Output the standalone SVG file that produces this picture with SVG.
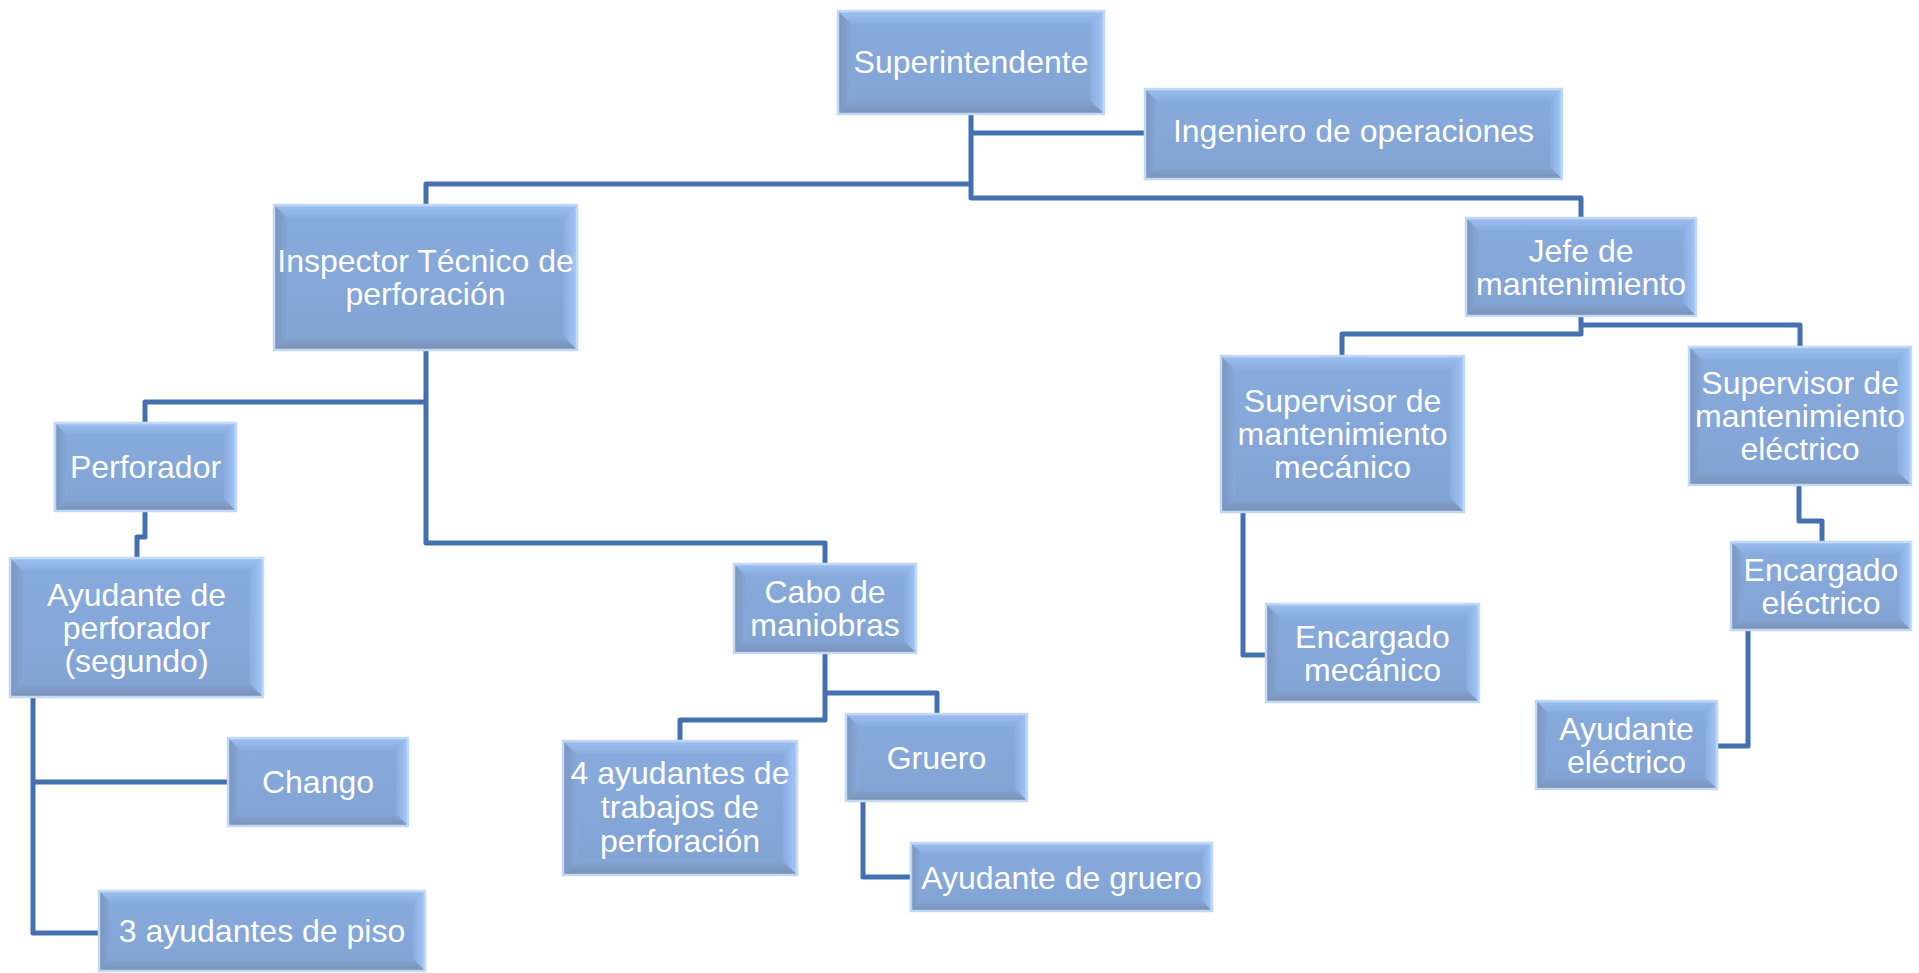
<svg xmlns="http://www.w3.org/2000/svg" width="1919" height="973" viewBox="0 0 1919 973">
<defs>
<linearGradient id="gTop" x1="0" y1="0" x2="0" y2="1"><stop offset="0" stop-color="#9cc0f2"/><stop offset="1" stop-color="#89acde"/></linearGradient>
<linearGradient id="gRight" x1="0" y1="0" x2="1" y2="0"><stop offset="0" stop-color="#89acde"/><stop offset="1" stop-color="#a2c7fa"/></linearGradient>
<linearGradient id="gBottom" x1="0" y1="0" x2="0" y2="1"><stop offset="0" stop-color="#84a5d5"/><stop offset="1" stop-color="#7990b4"/></linearGradient>
<linearGradient id="gLeft" x1="0" y1="0" x2="1" y2="0"><stop offset="0" stop-color="#7a94bd"/><stop offset="1" stop-color="#86a8d9"/></linearGradient>
<linearGradient id="gFace" x1="0" y1="0" x2="0" y2="1"><stop offset="0" stop-color="#88abdd"/><stop offset="1" stop-color="#81a3d4"/></linearGradient>
</defs>
<style>
.face{fill:url(#gFace)}
.t{fill:url(#gTop)}
.r{fill:url(#gRight)}
.b{fill:url(#gBottom)}
.l{fill:url(#gLeft)}
.edge{fill:none;stroke:#c3d8f2;stroke-width:2.5}
.lbl{font-family:"Liberation Sans",Arial,sans-serif;font-size:32px;fill:#ffffff;text-anchor:middle}
.conn{fill:none;stroke:#4470b0;stroke-width:5;stroke-linejoin:round}
</style>
<rect width="1919" height="973" fill="#ffffff"/>
<g id="connectors" class="conn">
<path d="M971,114 V198 H1581 V218"/>
<path d="M971,133 H1145"/>
<path d="M971,184 H426 V205"/>
<path d="M426,350 V543 H825 V564"/>
<path d="M426,402 H145 V423"/>
<path d="M145,511 V537 H137 V558"/>
<path d="M33,697 V933 H99"/>
<path d="M33,782 H228"/>
<path d="M825,653 V720 H680 V741"/>
<path d="M825,693 H937 V714"/>
<path d="M863,801 V877 H911"/>
<path d="M1581,316 V334 H1342 V356"/>
<path d="M1581,325 H1800 V347"/>
<path d="M1243,512 V655 H1266"/>
<path d="M1799,485 V521 H1822 V542"/>
<path d="M1748,630 V746 H1717"/>
</g>
<g id="superintendente" transform="translate(838,11)">
<rect class="face" width="266" height="103"/>
<polygon class="t" points="0,0 266,0 252,14 14,14"/><polygon class="r" points="266,0 266,103 252,89 252,14"/><polygon class="b" points="0,103 266,103 252,89 14,89"/><polygon class="l" points="0,0 0,103 14,89 14,14"/>
<rect class="edge" width="266" height="103"/>
<text class="lbl" x="133" y="62">Superintendente</text>
</g>
<g id="ingeniero" transform="translate(1145,89)">
<rect class="face" width="417" height="90"/>
<polygon class="t" points="0,0 417,0 405,12 12,12"/><polygon class="r" points="417,0 417,90 405,78 405,12"/><polygon class="b" points="0,90 417,90 405,78 12,78"/><polygon class="l" points="0,0 0,90 12,78 12,12"/>
<rect class="edge" width="417" height="90"/>
<text class="lbl" x="208.5" y="53">Ingeniero de operaciones</text>
</g>
<g id="inspector" transform="translate(274,205)">
<rect class="face" width="303" height="145"/>
<polygon class="t" points="0,0 303,0 289,14 14,14"/><polygon class="r" points="303,0 303,145 289,131 289,14"/><polygon class="b" points="0,145 303,145 289,131 14,131"/><polygon class="l" points="0,0 0,145 14,131 14,14"/>
<rect class="edge" width="303" height="145"/>
<text class="lbl"><tspan x="151.5" y="67">Inspector Técnico de</tspan><tspan x="151.5" y="100">perforación</tspan></text>
</g>
<g id="jefe" transform="translate(1466,218)">
<rect class="face" width="230" height="98"/>
<polygon class="t" points="0,0 230,0 217,13 13,13"/><polygon class="r" points="230,0 230,98 217,85 217,13"/><polygon class="b" points="0,98 230,98 217,85 13,85"/><polygon class="l" points="0,0 0,98 13,85 13,13"/>
<rect class="edge" width="230" height="98"/>
<text class="lbl"><tspan x="115" y="44">Jefe de</tspan><tspan x="115" y="77">mantenimiento</tspan></text>
</g>
<g id="sup-mecanico" transform="translate(1221,356)">
<rect class="face" width="243" height="156"/>
<polygon class="t" points="0,0 243,0 229,14 14,14"/><polygon class="r" points="243,0 243,156 229,142 229,14"/><polygon class="b" points="0,156 243,156 229,142 14,142"/><polygon class="l" points="0,0 0,156 14,142 14,14"/>
<rect class="edge" width="243" height="156"/>
<text class="lbl"><tspan x="121.5" y="56">Supervisor de</tspan><tspan x="121.5" y="89">mantenimiento</tspan><tspan x="121.5" y="122">mecánico</tspan></text>
</g>
<g id="sup-electrico" transform="translate(1689,347)">
<rect class="face" width="222" height="138"/>
<polygon class="t" points="0,0 222,0 208,14 14,14"/><polygon class="r" points="222,0 222,138 208,124 208,14"/><polygon class="b" points="0,138 222,138 208,124 14,124"/><polygon class="l" points="0,0 0,138 14,124 14,14"/>
<rect class="edge" width="222" height="138"/>
<text class="lbl"><tspan x="111" y="47">Supervisor de</tspan><tspan x="111" y="80">mantenimiento</tspan><tspan x="111" y="113">eléctrico</tspan></text>
</g>
<g id="perforador" transform="translate(55,423)">
<rect class="face" width="181" height="88"/>
<polygon class="t" points="0,0 181,0 169,12 12,12"/><polygon class="r" points="181,0 181,88 169,76 169,12"/><polygon class="b" points="0,88 181,88 169,76 12,76"/><polygon class="l" points="0,0 0,88 12,76 12,12"/>
<rect class="edge" width="181" height="88"/>
<text class="lbl" x="90.5" y="55">Perforador</text>
</g>
<g id="ayudante-perforador" transform="translate(10,558)">
<rect class="face" width="253" height="139"/>
<polygon class="t" points="0,0 253,0 239,14 14,14"/><polygon class="r" points="253,0 253,139 239,125 239,14"/><polygon class="b" points="0,139 253,139 239,125 14,125"/><polygon class="l" points="0,0 0,139 14,125 14,14"/>
<rect class="edge" width="253" height="139"/>
<text class="lbl"><tspan x="126.5" y="47.5">Ayudante de</tspan><tspan x="126.5" y="80.5">perforador</tspan><tspan x="126.5" y="113.5">(segundo)</tspan></text>
</g>
<g id="chango" transform="translate(228,738)">
<rect class="face" width="180" height="88"/>
<polygon class="t" points="0,0 180,0 168,12 12,12"/><polygon class="r" points="180,0 180,88 168,76 168,12"/><polygon class="b" points="0,88 180,88 168,76 12,76"/><polygon class="l" points="0,0 0,88 12,76 12,12"/>
<rect class="edge" width="180" height="88"/>
<text class="lbl" x="90" y="55">Chango</text>
</g>
<g id="ayudantes-piso" transform="translate(99,891)">
<rect class="face" width="326" height="80"/>
<polygon class="t" points="0,0 326,0 314,12 12,12"/><polygon class="r" points="326,0 326,80 314,68 314,12"/><polygon class="b" points="0,80 326,80 314,68 12,68"/><polygon class="l" points="0,0 0,80 12,68 12,12"/>
<rect class="edge" width="326" height="80"/>
<text class="lbl" x="163" y="51">3 ayudantes de piso</text>
</g>
<g id="cabo" transform="translate(734,564)">
<rect class="face" width="182" height="89"/>
<polygon class="t" points="0,0 182,0 170,12 12,12"/><polygon class="r" points="182,0 182,89 170,77 170,12"/><polygon class="b" points="0,89 182,89 170,77 12,77"/><polygon class="l" points="0,0 0,89 12,77 12,12"/>
<rect class="edge" width="182" height="89"/>
<text class="lbl"><tspan x="91" y="39">Cabo de</tspan><tspan x="91" y="72">maniobras</tspan></text>
</g>
<g id="ayudantes-trabajos" transform="translate(563,741)">
<rect class="face" width="234" height="134"/>
<polygon class="t" points="0,0 234,0 220,14 14,14"/><polygon class="r" points="234,0 234,134 220,120 220,14"/><polygon class="b" points="0,134 234,134 220,120 14,120"/><polygon class="l" points="0,0 0,134 14,120 14,14"/>
<rect class="edge" width="234" height="134"/>
<text class="lbl"><tspan x="117" y="43">4 ayudantes de</tspan><tspan x="117" y="77">trabajos de</tspan><tspan x="117" y="111">perforación</tspan></text>
</g>
<g id="gruero" transform="translate(846,714)">
<rect class="face" width="181" height="87"/>
<polygon class="t" points="0,0 181,0 169,12 12,12"/><polygon class="r" points="181,0 181,87 169,75 169,12"/><polygon class="b" points="0,87 181,87 169,75 12,75"/><polygon class="l" points="0,0 0,87 12,75 12,12"/>
<rect class="edge" width="181" height="87"/>
<text class="lbl" x="90.5" y="54.5">Gruero</text>
</g>
<g id="ayudante-gruero" transform="translate(911,843)">
<rect class="face" width="301" height="68"/>
<polygon class="t" points="0,0 301,0 291,10 10,10"/><polygon class="r" points="301,0 301,68 291,58 291,10"/><polygon class="b" points="0,68 301,68 291,58 10,58"/><polygon class="l" points="0,0 0,68 10,58 10,10"/>
<rect class="edge" width="301" height="68"/>
<text class="lbl" x="150.5" y="46">Ayudante de gruero</text>
</g>
<g id="encargado-mecanico" transform="translate(1266,604)">
<rect class="face" width="213" height="98"/>
<polygon class="t" points="0,0 213,0 200,13 13,13"/><polygon class="r" points="213,0 213,98 200,85 200,13"/><polygon class="b" points="0,98 213,98 200,85 13,85"/><polygon class="l" points="0,0 0,98 13,85 13,13"/>
<rect class="edge" width="213" height="98"/>
<text class="lbl"><tspan x="106.5" y="43.5">Encargado</tspan><tspan x="106.5" y="76.5">mecánico</tspan></text>
</g>
<g id="encargado-electrico" transform="translate(1731,542)">
<rect class="face" width="180" height="88"/>
<polygon class="t" points="0,0 180,0 168,12 12,12"/><polygon class="r" points="180,0 180,88 168,76 168,12"/><polygon class="b" points="0,88 180,88 168,76 12,76"/><polygon class="l" points="0,0 0,88 12,76 12,12"/>
<rect class="edge" width="180" height="88"/>
<text class="lbl"><tspan x="90" y="38.5">Encargado</tspan><tspan x="90" y="71.5">eléctrico</tspan></text>
</g>
<g id="ayudante-electrico" transform="translate(1536,701)">
<rect class="face" width="181" height="88"/>
<polygon class="t" points="0,0 181,0 169,12 12,12"/><polygon class="r" points="181,0 181,88 169,76 169,12"/><polygon class="b" points="0,88 181,88 169,76 12,76"/><polygon class="l" points="0,0 0,88 12,76 12,12"/>
<rect class="edge" width="181" height="88"/>
<text class="lbl"><tspan x="90.5" y="38.5">Ayudante</tspan><tspan x="90.5" y="71.5">eléctrico</tspan></text>
</g>
</svg>
